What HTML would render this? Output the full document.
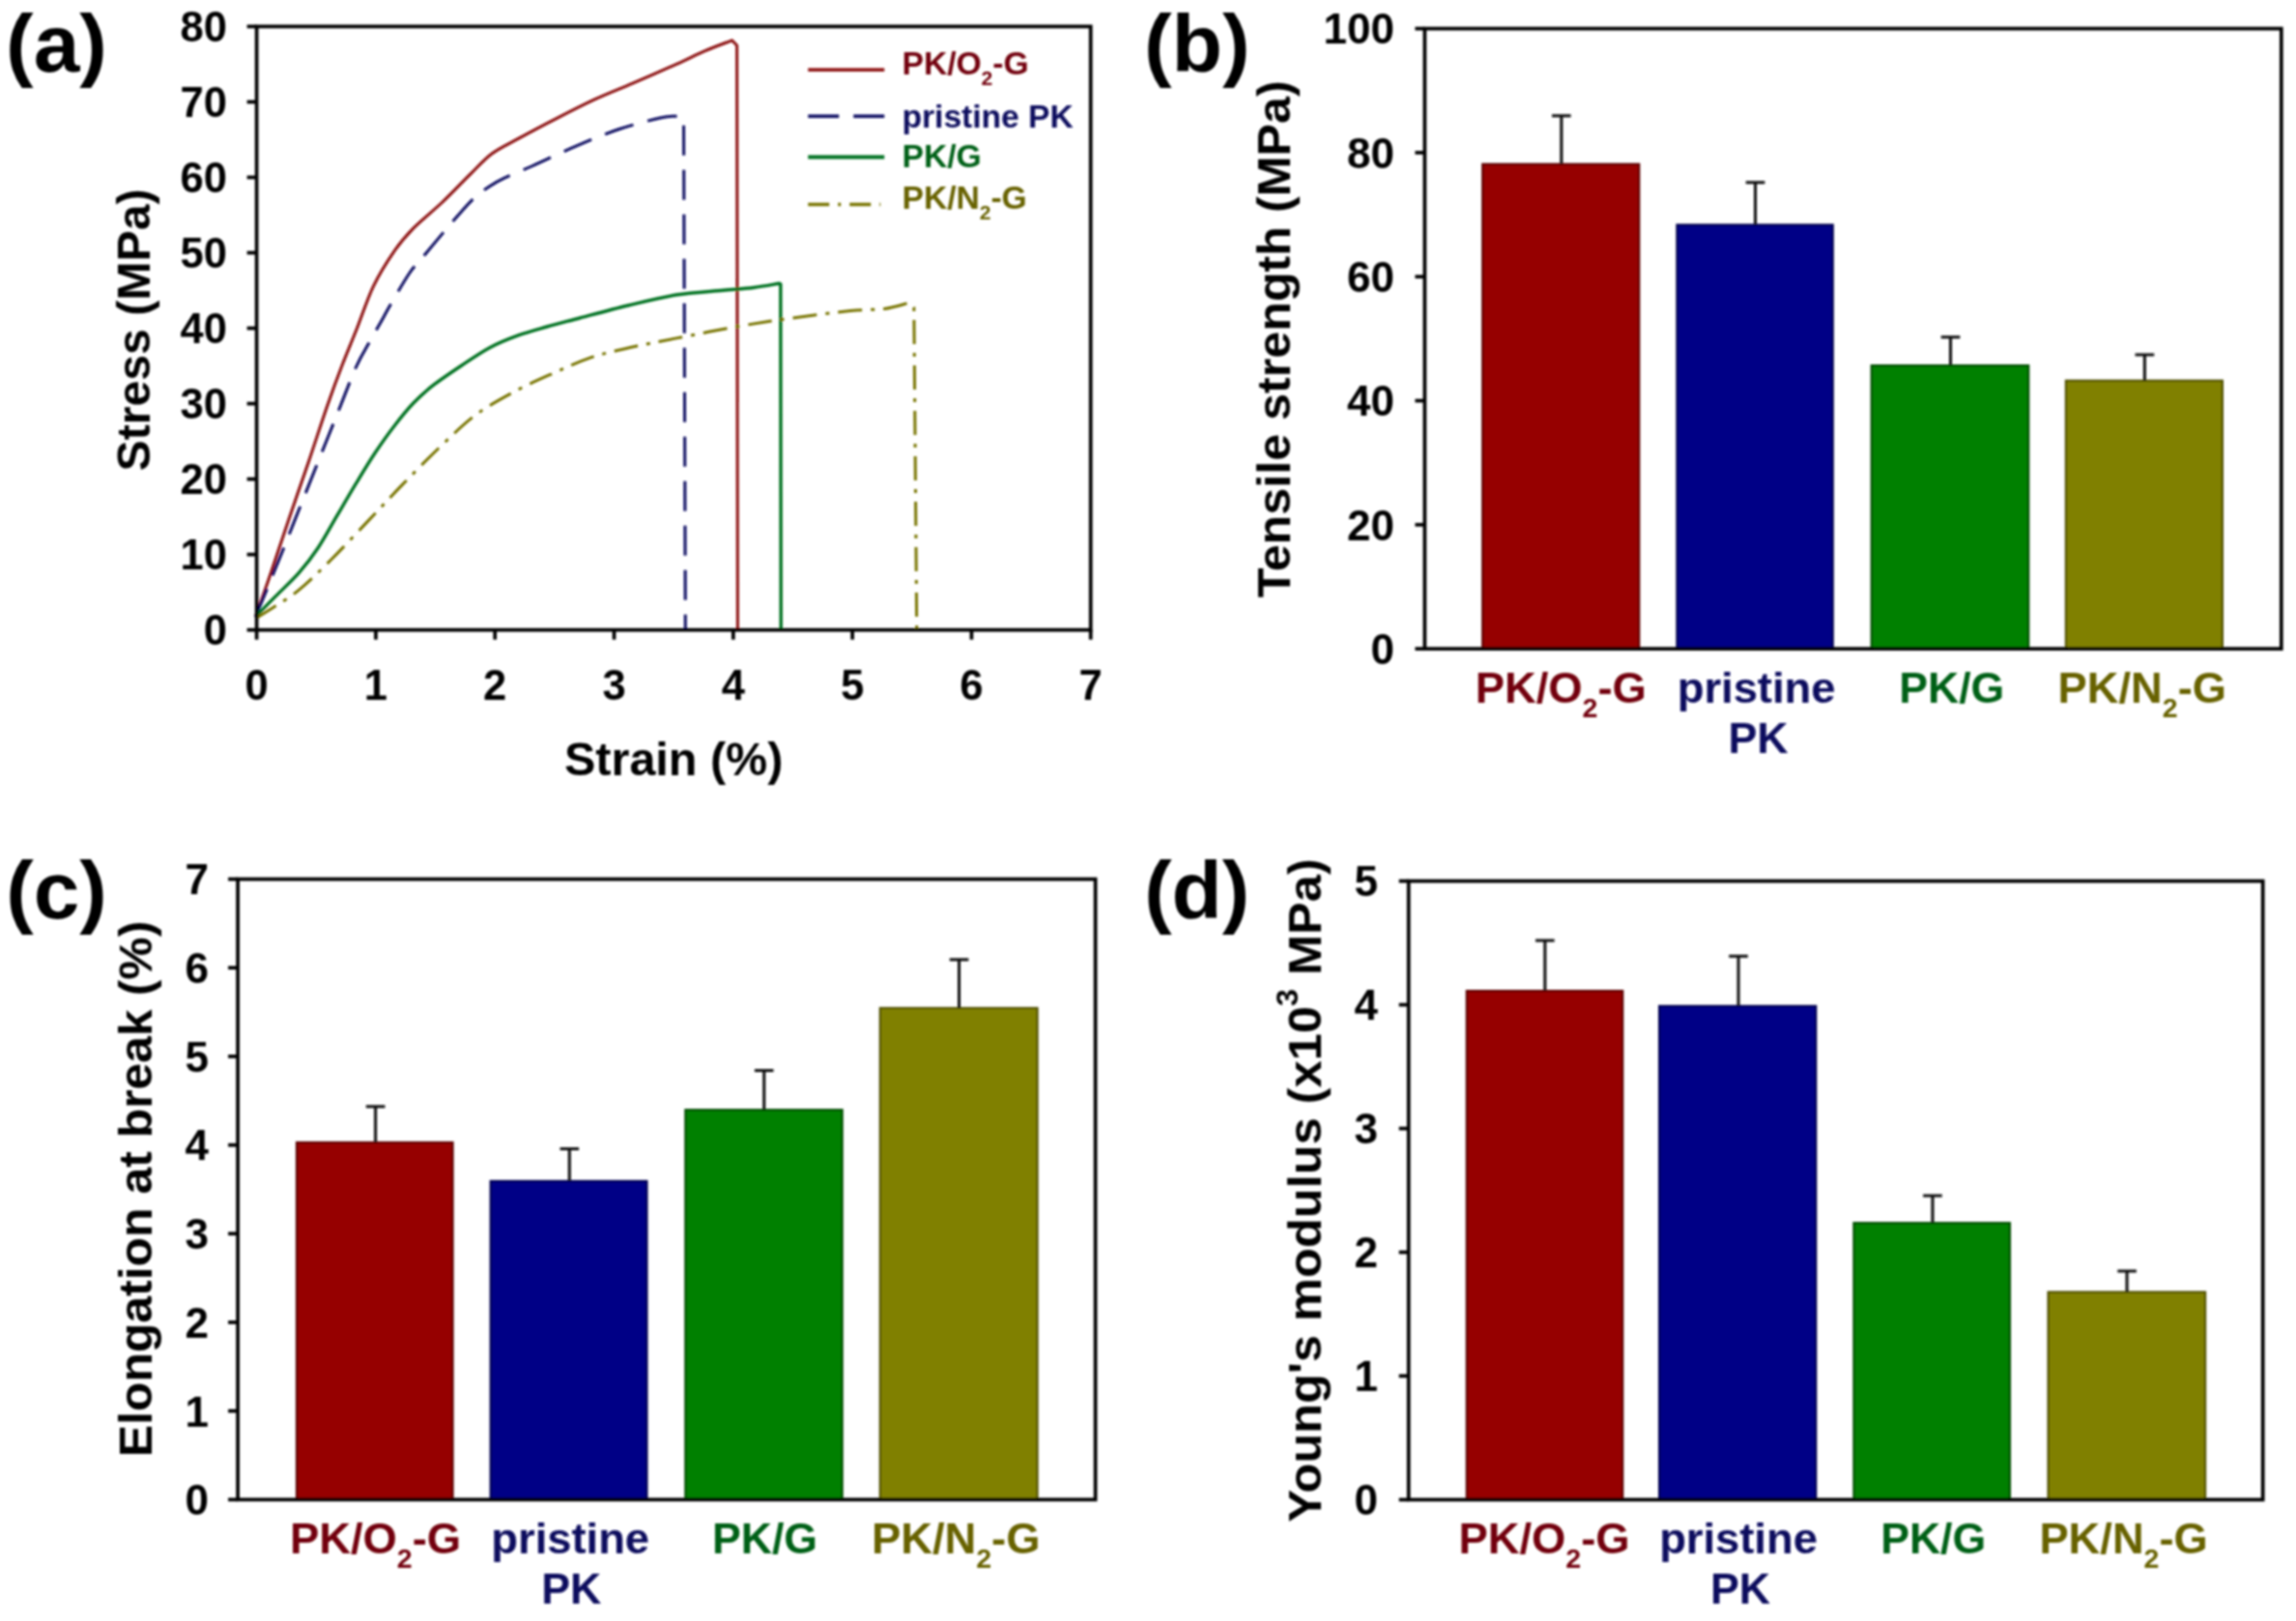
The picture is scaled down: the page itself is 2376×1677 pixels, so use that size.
<!DOCTYPE html>
<html lang="en"><head><meta charset="utf-8"><title>Mechanical properties of PK composites</title>
<style>
html,body{margin:0;padding:0;background:#fff;}
body{width:2376px;height:1677px;overflow:hidden;}
svg{display:block;font-family:"Liberation Sans", sans-serif;font-weight:700;}
</style></head><body>
<svg width="2376" height="1677" viewBox="0 0 2376 1677">
<defs><filter id="bl" x="0" y="0" width="100%" height="100%" filterUnits="userSpaceOnUse"><feGaussianBlur stdDeviation="0.8"/></filter></defs><rect width="2376" height="1677" fill="#fff"/>
<g filter="url(#bl)">
<path d="M264.5,638.0 C267.0,630.8 273.9,611.7 279.7,594.6 C285.5,577.5 292.9,554.8 299.5,535.4 C306.1,516.0 312.6,497.6 319.2,478.2 C325.8,458.8 333.2,435.7 339.0,419.0 C344.8,402.3 348.9,391.2 354.0,378.0 C359.1,364.8 363.9,353.6 369.3,340.0 C374.7,326.4 379.9,309.7 386.3,296.3 C392.8,282.9 401.1,269.8 408.0,259.8 C414.9,249.8 419.6,244.5 427.8,236.1 C436.0,227.7 447.5,218.9 457.4,209.5 C467.3,200.1 478.4,188.3 487.0,179.9 C495.6,171.5 500.5,165.3 508.7,159.2 C516.9,153.1 525.2,149.5 536.4,143.4 C547.6,137.3 562.6,129.3 575.8,122.6 C588.9,115.8 602.1,109.0 615.3,102.9 C628.5,96.8 640.7,92.2 654.8,86.1 C668.9,80.0 687.5,72.0 700.0,66.4 C712.5,60.8 720.0,56.7 729.6,52.6 C739.2,48.5 752.9,43.6 757.5,41.8 L762.6,47 L763.4,651.7" fill="none" stroke="#8c0c0c" stroke-width="3.0" stroke-linejoin="round"/>
<path d="M264.5,638.0 C268.7,627.8 282.1,595.3 289.6,576.9 C297.1,558.5 302.7,544.0 309.3,527.5 C315.9,511.1 322.4,494.6 329.0,478.2 C335.6,461.8 342.2,445.2 348.8,428.8 C355.4,412.4 363.0,392.0 368.6,379.5 C374.2,367.0 378.1,361.6 382.4,353.8 C386.7,346.1 390.3,340.0 394.2,333.0 C398.1,326.0 401.1,320.4 406.0,312.0 C410.9,303.6 418.5,290.2 423.8,282.5 C429.1,274.8 431.1,273.7 437.7,265.8 C444.3,257.9 456.8,242.9 463.3,235.2 C469.9,227.5 472.4,224.5 477.0,219.4 C481.6,214.3 486.1,209.1 491.0,204.6 C495.9,200.1 501.4,196.2 506.7,192.7 C511.9,189.2 515.2,187.2 522.5,183.8 C529.8,180.4 538.0,177.4 550.2,172.0 C562.4,166.6 580.5,157.7 595.6,151.3 C610.7,144.9 626.2,138.4 641.0,133.5 C655.8,128.6 674.2,123.9 684.4,121.7 C694.6,119.5 699.1,120.5 702.0,120.3 L707.5,122 L709.3,651.7" fill="none" stroke="#0a0a62" stroke-width="3.0" stroke-dasharray="31 15" stroke-linejoin="round"/>
<path d="M264.5,638.0 C268.0,634.4 278.2,623.9 285.7,616.4 C293.2,608.9 302.1,600.9 309.3,592.7 C316.5,584.5 322.4,576.9 329.0,567.0 C335.6,557.1 342.2,544.6 348.8,533.4 C355.4,522.2 362.0,510.8 368.6,499.9 C375.2,489.0 381.7,478.2 388.3,468.3 C394.9,458.4 401.4,449.2 408.0,440.7 C414.6,432.1 421.2,423.9 427.8,417.0 C434.4,410.1 439.3,405.6 447.5,399.2 C455.7,392.8 467.2,385.1 477.1,378.5 C487.0,371.9 496.8,365.0 506.7,359.7 C516.6,354.4 526.5,350.5 536.4,346.9 C546.3,343.3 555.4,341.0 566.0,338.0 C576.6,335.0 586.0,332.7 600.0,329.0 C614.0,325.3 633.3,320.0 650.0,316.0 C666.7,312.0 683.5,307.6 700.0,305.0 C716.5,302.4 735.7,301.6 749.0,300.3 C762.3,299.1 770.4,298.7 780.0,297.5 C789.6,296.3 802.1,293.9 806.5,293.2 L807.8,294 L808.2,651.7" fill="none" stroke="#007222" stroke-width="3.4" stroke-linejoin="round"/>
<path d="M264.5,640.0 C267.9,637.8 277.5,631.9 285.0,627.0 C292.5,622.1 299.7,618.4 309.3,610.4 C318.9,602.4 330.7,591.0 342.9,578.8 C355.1,566.6 369.9,550.5 382.4,537.4 C394.9,524.2 405.4,512.7 417.9,499.9 C430.4,487.1 444.9,472.2 457.4,460.4 C469.9,448.5 480.4,438.0 492.9,428.8 C505.4,419.6 519.2,412.2 532.4,405.1 C545.6,398.0 559.1,392.1 571.9,386.4 C584.7,380.6 596.9,374.9 609.4,370.6 C621.9,366.3 631.8,364.1 646.9,360.7 C662.0,357.2 680.6,353.7 700.0,349.9 C719.4,346.1 743.0,341.3 763.0,337.8 C783.0,334.3 800.5,331.7 820.0,329.0 C839.5,326.3 864.2,323.1 880.0,321.5 C895.8,319.9 905.0,320.8 915.0,319.5 C925.0,318.2 935.7,314.5 939.8,313.5 L945.8,318 L948.7,651.7" fill="none" stroke="#787400" stroke-width="3.0" stroke-dasharray="25 9 4 9" stroke-linejoin="round"/>
<rect x="265.6" y="27.4" width="863.1" height="624.3000000000001" fill="none" stroke="#000" stroke-width="3.7"/>
<line x1="255.60000000000002" y1="27.4" x2="265.6" y2="27.4" stroke="#000" stroke-width="3.7"/>
<line x1="255.60000000000002" y1="105.4375" x2="265.6" y2="105.4375" stroke="#000" stroke-width="3.7"/>
<line x1="255.60000000000002" y1="183.47500000000002" x2="265.6" y2="183.47500000000002" stroke="#000" stroke-width="3.7"/>
<line x1="255.60000000000002" y1="261.5125" x2="265.6" y2="261.5125" stroke="#000" stroke-width="3.7"/>
<line x1="255.60000000000002" y1="339.55" x2="265.6" y2="339.55" stroke="#000" stroke-width="3.7"/>
<line x1="255.60000000000002" y1="417.58750000000003" x2="265.6" y2="417.58750000000003" stroke="#000" stroke-width="3.7"/>
<line x1="255.60000000000002" y1="495.625" x2="265.6" y2="495.625" stroke="#000" stroke-width="3.7"/>
<line x1="255.60000000000002" y1="573.6625" x2="265.6" y2="573.6625" stroke="#000" stroke-width="3.7"/>
<line x1="255.60000000000002" y1="651.7" x2="265.6" y2="651.7" stroke="#000" stroke-width="3.7"/>
<line x1="265.6" y1="651.7" x2="265.6" y2="661.7" stroke="#000" stroke-width="3.7"/>
<line x1="388.90000000000003" y1="651.7" x2="388.90000000000003" y2="661.7" stroke="#000" stroke-width="3.7"/>
<line x1="512.2" y1="651.7" x2="512.2" y2="661.7" stroke="#000" stroke-width="3.7"/>
<line x1="635.5" y1="651.7" x2="635.5" y2="661.7" stroke="#000" stroke-width="3.7"/>
<line x1="758.8" y1="651.7" x2="758.8" y2="661.7" stroke="#000" stroke-width="3.7"/>
<line x1="882.1" y1="651.7" x2="882.1" y2="661.7" stroke="#000" stroke-width="3.7"/>
<line x1="1005.4" y1="651.7" x2="1005.4" y2="661.7" stroke="#000" stroke-width="3.7"/>
<line x1="1128.7" y1="651.7" x2="1128.7" y2="661.7" stroke="#000" stroke-width="3.7"/>
<text x="235" y="43.0" font-size="43.5" fill="#000" text-anchor="end" >80</text>
<text x="235" y="121.0" font-size="43.5" fill="#000" text-anchor="end" >70</text>
<text x="235" y="199.1" font-size="43.5" fill="#000" text-anchor="end" >60</text>
<text x="235" y="277.1" font-size="43.5" fill="#000" text-anchor="end" >50</text>
<text x="235" y="355.2" font-size="43.5" fill="#000" text-anchor="end" >40</text>
<text x="235" y="433.2" font-size="43.5" fill="#000" text-anchor="end" >30</text>
<text x="235" y="511.2" font-size="43.5" fill="#000" text-anchor="end" >20</text>
<text x="235" y="589.3" font-size="43.5" fill="#000" text-anchor="end" >10</text>
<text x="235" y="667.3" font-size="43.5" fill="#000" text-anchor="end" >0</text>
<text x="265.6" y="724.2" font-size="43.5" fill="#000" text-anchor="middle" >0</text>
<text x="388.9" y="724.2" font-size="43.5" fill="#000" text-anchor="middle" >1</text>
<text x="512.2" y="724.2" font-size="43.5" fill="#000" text-anchor="middle" >2</text>
<text x="635.5" y="724.2" font-size="43.5" fill="#000" text-anchor="middle" >3</text>
<text x="758.8" y="724.2" font-size="43.5" fill="#000" text-anchor="middle" >4</text>
<text x="882.1" y="724.2" font-size="43.5" fill="#000" text-anchor="middle" >5</text>
<text x="1005.4" y="724.2" font-size="43.5" fill="#000" text-anchor="middle" >6</text>
<text x="1128.7" y="724.2" font-size="43.5" fill="#000" text-anchor="middle" >7</text>
<text x="697.2" y="801.5" font-size="48.5" fill="#000" text-anchor="middle" >Strain (%)</text>
<text transform="translate(155.2,341.5) rotate(-90)" font-size="48.5" fill="#000" text-anchor="middle" textLength="292" lengthAdjust="spacingAndGlyphs">Stress (MPa)</text>
<text x="6.1" y="74.4" font-size="83" fill="#000" text-anchor="start" textLength="104.8" lengthAdjust="spacingAndGlyphs" >(a)</text>
<line x1="836.2" y1="72.3" x2="915.2" y2="72.3" stroke="#8c0c0c" stroke-width="3.6"/>
<line x1="836.2" y1="120.3" x2="915.2" y2="120.3" stroke="#0a0a62" stroke-width="3.6" stroke-dasharray="32 15"/>
<line x1="836.2" y1="162.5" x2="915.2" y2="162.5" stroke="#007222" stroke-width="4"/>
<line x1="836.2" y1="211.5" x2="911.2" y2="211.5" stroke="#787400" stroke-width="3.6" stroke-dasharray="22 9 3 9"/>
<text x="933.5" y="77.2" font-size="33.6" fill="#720208" text-anchor="start" >PK/O<tspan font-size="21" dy="11">2</tspan><tspan dy="-11">-G</tspan></text>
<text x="933.5" y="131.5" font-size="33.6" fill="#0a0a5e" text-anchor="start" >pristine PK</text>
<text x="933.5" y="173" font-size="33.6" fill="#006018" text-anchor="start" >PK/G</text>
<text x="933.5" y="216.4" font-size="33.6" fill="#686200" text-anchor="start" >PK/N<tspan font-size="21" dy="11">2</tspan><tspan dy="-11">-G</tspan></text>
<rect x="1534.2" y="169.8" width="162.0" height="501.4" fill="#960000" stroke="#5c0000" stroke-width="2.2"/>
<rect x="1735.4" y="232.6" width="161.3" height="438.6" fill="#000086" stroke="#00004e" stroke-width="2.2"/>
<rect x="1936.7" y="378.1" width="162.5" height="293.1" fill="#008000" stroke="#004c00" stroke-width="2.2"/>
<rect x="2137.9" y="393.8" width="162.0" height="277.4" fill="#808000" stroke="#4e4e00" stroke-width="2.2"/>
<path d="M1615.8,169.8 V119.7 M1606.0,119.7 H1625.6" stroke="#111" stroke-width="3" fill="none"/>
<path d="M1816.5,232.6 V188.7 M1806.7,188.7 H1826.3" stroke="#111" stroke-width="3" fill="none"/>
<path d="M2018.5,378.1 V348.8 M2008.7,348.8 H2028.3" stroke="#111" stroke-width="3" fill="none"/>
<path d="M2219.4,393.8 V367.1 M2209.6,367.1 H2229.2000000000003" stroke="#111" stroke-width="3" fill="none"/>
<rect x="1474.4" y="29.6" width="886.4000000000001" height="641.6" fill="none" stroke="#000" stroke-width="3.7"/>
<line x1="1464.4" y1="29.6" x2="1474.4" y2="29.6" stroke="#000" stroke-width="3.7"/>
<line x1="1464.4" y1="157.92" x2="1474.4" y2="157.92" stroke="#000" stroke-width="3.7"/>
<line x1="1464.4" y1="286.24" x2="1474.4" y2="286.24" stroke="#000" stroke-width="3.7"/>
<line x1="1464.4" y1="414.56" x2="1474.4" y2="414.56" stroke="#000" stroke-width="3.7"/>
<line x1="1464.4" y1="542.88" x2="1474.4" y2="542.88" stroke="#000" stroke-width="3.7"/>
<line x1="1464.4" y1="671.1999999999999" x2="1474.4" y2="671.1999999999999" stroke="#000" stroke-width="3.7"/>
<text x="1443" y="45.4" font-size="44" fill="#000" text-anchor="end" >100</text>
<text x="1443" y="173.7" font-size="44" fill="#000" text-anchor="end" >80</text>
<text x="1443" y="302.0" font-size="44" fill="#000" text-anchor="end" >60</text>
<text x="1443" y="430.4" font-size="44" fill="#000" text-anchor="end" >40</text>
<text x="1443" y="558.7" font-size="44" fill="#000" text-anchor="end" >20</text>
<text x="1443" y="687.0" font-size="44" fill="#000" text-anchor="end" >0</text>
<text x="1615.3" y="727" font-size="44.5" fill="#720208" text-anchor="middle" textLength="177.2" lengthAdjust="spacingAndGlyphs" >PK/O<tspan font-size="28" dy="15">2</tspan><tspan dy="-15">-G</tspan></text>
<text x="1817.6" y="727" font-size="44.5" fill="#0a0a5e" text-anchor="middle" textLength="163.7" lengthAdjust="spacingAndGlyphs" >pristine</text>
<text x="1819.5" y="778.5" font-size="44.5" fill="#0a0a5e" text-anchor="middle" textLength="62" lengthAdjust="spacingAndGlyphs" >PK</text>
<text x="2019.8" y="727" font-size="44.5" fill="#006018" text-anchor="middle" textLength="109" lengthAdjust="spacingAndGlyphs" >PK/G</text>
<text x="2216.8" y="727" font-size="44.5" fill="#686200" text-anchor="middle" textLength="174.4" lengthAdjust="spacingAndGlyphs" >PK/N<tspan font-size="28" dy="15">2</tspan><tspan dy="-15">-G</tspan></text>
<text transform="translate(1335,350.8) rotate(-90)" font-size="49" fill="#000" text-anchor="middle" textLength="535" lengthAdjust="spacingAndGlyphs">Tensile strength (MPa)</text>
<text x="1183.9" y="74.4" font-size="83" fill="#000" text-anchor="start" textLength="109.7" lengthAdjust="spacingAndGlyphs" >(b)</text>
<rect x="307" y="1181.9" width="161.5" height="369.5" fill="#960000" stroke="#5c0000" stroke-width="2.2"/>
<rect x="507.7" y="1221.9" width="161.7" height="329.5" fill="#000086" stroke="#00004e" stroke-width="2.2"/>
<rect x="709.3" y="1148.2" width="162.3" height="403.2" fill="#008000" stroke="#004c00" stroke-width="2.2"/>
<rect x="910.8" y="1042.9" width="162.7" height="508.5" fill="#808000" stroke="#4e4e00" stroke-width="2.2"/>
<path d="M388.6,1181.9 V1144.8 M378.8,1144.8 H398.40000000000003" stroke="#111" stroke-width="3" fill="none"/>
<path d="M589.3,1221.9 V1188.5 M579.5,1188.5 H599.0999999999999" stroke="#111" stroke-width="3" fill="none"/>
<path d="M790.7,1148.2 V1107.5 M780.9000000000001,1107.5 H800.5" stroke="#111" stroke-width="3" fill="none"/>
<path d="M992.5,1042.9 V992.7 M982.7,992.7 H1002.3" stroke="#111" stroke-width="3" fill="none"/>
<rect x="246.1" y="909.5" width="887.4999999999999" height="641.9000000000001" fill="none" stroke="#000" stroke-width="3.7"/>
<line x1="236.1" y1="909.5" x2="246.1" y2="909.5" stroke="#000" stroke-width="3.7"/>
<line x1="236.1" y1="1001.2" x2="246.1" y2="1001.2" stroke="#000" stroke-width="3.7"/>
<line x1="236.1" y1="1092.9" x2="246.1" y2="1092.9" stroke="#000" stroke-width="3.7"/>
<line x1="236.1" y1="1184.6" x2="246.1" y2="1184.6" stroke="#000" stroke-width="3.7"/>
<line x1="236.1" y1="1276.3000000000002" x2="246.1" y2="1276.3000000000002" stroke="#000" stroke-width="3.7"/>
<line x1="236.1" y1="1368.0" x2="246.1" y2="1368.0" stroke="#000" stroke-width="3.7"/>
<line x1="236.1" y1="1459.7" x2="246.1" y2="1459.7" stroke="#000" stroke-width="3.7"/>
<line x1="236.1" y1="1551.4" x2="246.1" y2="1551.4" stroke="#000" stroke-width="3.7"/>
<text x="216" y="925.3" font-size="44" fill="#000" text-anchor="end" >7</text>
<text x="216" y="1017.0" font-size="44" fill="#000" text-anchor="end" >6</text>
<text x="216" y="1108.7" font-size="44" fill="#000" text-anchor="end" >5</text>
<text x="216" y="1200.4" font-size="44" fill="#000" text-anchor="end" >4</text>
<text x="216" y="1292.1" font-size="44" fill="#000" text-anchor="end" >3</text>
<text x="216" y="1383.8" font-size="44" fill="#000" text-anchor="end" >2</text>
<text x="216" y="1475.5" font-size="44" fill="#000" text-anchor="end" >1</text>
<text x="216" y="1567.2" font-size="44" fill="#000" text-anchor="end" >0</text>
<text x="388.5" y="1606.5" font-size="44.5" fill="#720208" text-anchor="middle" textLength="177.2" lengthAdjust="spacingAndGlyphs" >PK/O<tspan font-size="28" dy="15">2</tspan><tspan dy="-15">-G</tspan></text>
<text x="590.2" y="1606.5" font-size="44.5" fill="#0a0a5e" text-anchor="middle" textLength="163.7" lengthAdjust="spacingAndGlyphs" >pristine</text>
<text x="591.2" y="1659.3" font-size="44.5" fill="#0a0a5e" text-anchor="middle" textLength="62" lengthAdjust="spacingAndGlyphs" >PK</text>
<text x="791.5" y="1606.5" font-size="44.5" fill="#006018" text-anchor="middle" textLength="109" lengthAdjust="spacingAndGlyphs" >PK/G</text>
<text x="989.2" y="1606.5" font-size="44.5" fill="#686200" text-anchor="middle" textLength="174.4" lengthAdjust="spacingAndGlyphs" >PK/N<tspan font-size="28" dy="15">2</tspan><tspan dy="-15">-G</tspan></text>
<text transform="translate(157.2,1230) rotate(-90)" font-size="49" fill="#000" text-anchor="middle" textLength="554.7" lengthAdjust="spacingAndGlyphs">Elongation at break (%)</text>
<text x="6.2" y="950.3" font-size="83" fill="#000" text-anchor="start" textLength="104.5" lengthAdjust="spacingAndGlyphs" >(c)</text>
<rect x="1517.8" y="1025.1" width="161.4" height="526.4" fill="#960000" stroke="#5c0000" stroke-width="2.2"/>
<rect x="1717.1" y="1040.8" width="162.1" height="510.7" fill="#000086" stroke="#00004e" stroke-width="2.2"/>
<rect x="1918.4" y="1265.2" width="161.5" height="286.3" fill="#008000" stroke="#004c00" stroke-width="2.2"/>
<rect x="2119.6" y="1336.7" width="162.5" height="214.8" fill="#808000" stroke="#4e4e00" stroke-width="2.2"/>
<path d="M1598.8,1025.1 V973.1 M1589.0,973.1 H1608.6" stroke="#111" stroke-width="3" fill="none"/>
<path d="M1799,1040.8 V989.3 M1789.2,989.3 H1808.8" stroke="#111" stroke-width="3" fill="none"/>
<path d="M1999.9,1265.2 V1237 M1990.1000000000001,1237 H2009.7" stroke="#111" stroke-width="3" fill="none"/>
<path d="M2201.1,1336.7 V1315 M2191.2999999999997,1315 H2210.9" stroke="#111" stroke-width="3" fill="none"/>
<rect x="1457.7" y="911.5" width="883.9999999999998" height="640.0" fill="none" stroke="#000" stroke-width="3.7"/>
<line x1="1447.7" y1="911.5" x2="1457.7" y2="911.5" stroke="#000" stroke-width="3.7"/>
<line x1="1447.7" y1="1039.5" x2="1457.7" y2="1039.5" stroke="#000" stroke-width="3.7"/>
<line x1="1447.7" y1="1167.5" x2="1457.7" y2="1167.5" stroke="#000" stroke-width="3.7"/>
<line x1="1447.7" y1="1295.5" x2="1457.7" y2="1295.5" stroke="#000" stroke-width="3.7"/>
<line x1="1447.7" y1="1423.5" x2="1457.7" y2="1423.5" stroke="#000" stroke-width="3.7"/>
<line x1="1447.7" y1="1551.5" x2="1457.7" y2="1551.5" stroke="#000" stroke-width="3.7"/>
<text x="1426" y="927.3" font-size="44" fill="#000" text-anchor="end" >5</text>
<text x="1426" y="1055.3" font-size="44" fill="#000" text-anchor="end" >4</text>
<text x="1426" y="1183.3" font-size="44" fill="#000" text-anchor="end" >3</text>
<text x="1426" y="1311.3" font-size="44" fill="#000" text-anchor="end" >2</text>
<text x="1426" y="1439.3" font-size="44" fill="#000" text-anchor="end" >1</text>
<text x="1426" y="1567.3" font-size="44" fill="#000" text-anchor="end" >0</text>
<text x="1598" y="1606.8" font-size="44.5" fill="#720208" text-anchor="middle" textLength="177.2" lengthAdjust="spacingAndGlyphs" >PK/O<tspan font-size="28" dy="15">2</tspan><tspan dy="-15">-G</tspan></text>
<text x="1799" y="1606.8" font-size="44.5" fill="#0a0a5e" text-anchor="middle" textLength="163.7" lengthAdjust="spacingAndGlyphs" >pristine</text>
<text x="1801" y="1659.4" font-size="44.5" fill="#0a0a5e" text-anchor="middle" textLength="62" lengthAdjust="spacingAndGlyphs" >PK</text>
<text x="2000.7" y="1606.8" font-size="44.5" fill="#006018" text-anchor="middle" textLength="109" lengthAdjust="spacingAndGlyphs" >PK/G</text>
<text x="2197.6" y="1606.8" font-size="44.5" fill="#686200" text-anchor="middle" textLength="174.4" lengthAdjust="spacingAndGlyphs" >PK/N<tspan font-size="28" dy="15">2</tspan><tspan dy="-15">-G</tspan></text>
<text transform="translate(1367.3,1231.5) rotate(-90)" font-size="49" fill="#000" text-anchor="middle" textLength="686.5" lengthAdjust="spacingAndGlyphs">Young's modulus (x10<tspan font-size="31" dy="-24">3</tspan><tspan dy="24"> MPa)</tspan></text>
<text x="1184.2" y="950.3" font-size="83" fill="#000" text-anchor="start" textLength="109" lengthAdjust="spacingAndGlyphs" >(d)</text>
</g>
</svg>
</body></html>
